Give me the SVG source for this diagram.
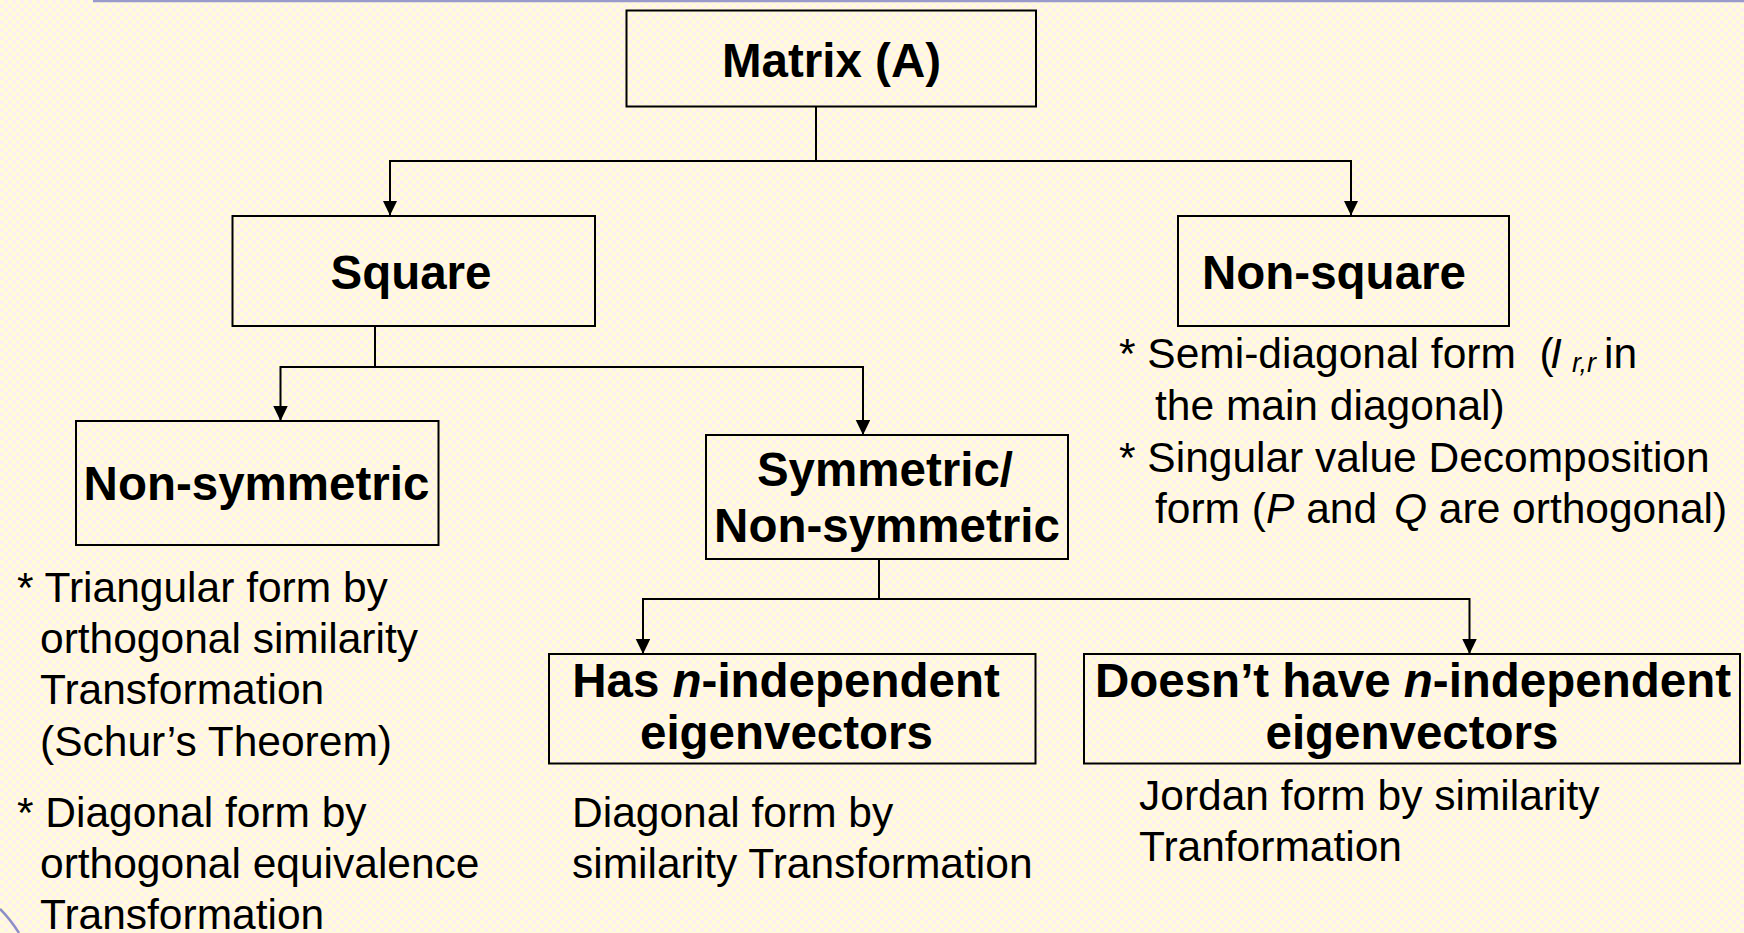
<svg xmlns="http://www.w3.org/2000/svg" width="1744" height="933" viewBox="0 0 1744 933">
<defs>
<pattern id="bg" width="8" height="8" patternUnits="userSpaceOnUse">
<rect width="8" height="8" fill="#fdeef4"/>
<circle cx="2" cy="2" r="2.6" fill="#fffcd6"/>
<circle cx="6" cy="6" r="2.6" fill="#fffcd6"/>
</pattern>
<marker id="arr" markerUnits="userSpaceOnUse" markerWidth="15" markerHeight="15" refX="15" refY="7.25" orient="auto">
<path d="M0,0 L15,7.25 L0,14.5 z" fill="#000"/>
</marker>
<style>
.box{fill:none;stroke:#000;stroke-width:2}
.conn{fill:none;stroke:#000;stroke-width:2}
.b{font-family:"Liberation Sans",Arial,sans-serif;font-weight:bold;font-size:47.5px;text-anchor:middle;fill:#000}
.t{font-family:"Liberation Sans",Arial,sans-serif;font-size:42.5px;fill:#000}
.i{font-style:italic}
</style>
</defs>
<rect width="1744" height="933" fill="url(#bg)"/>
<line x1="93" y1="1" x2="1744" y2="1" stroke="#9a9acb" stroke-width="2.5"/>
<path d="M0,909 Q10,919 19,933" fill="none" stroke="#8e8ec6" stroke-width="2.5"/>

<g id="connectors">
<path class="conn" d="M816,107 V161"/>
<path class="conn" d="M816,161 H390 V215.5" marker-end="url(#arr)"/>
<path class="conn" d="M816,161 H1351 V215.5" marker-end="url(#arr)"/>
<path class="conn" d="M375,326 V367"/>
<path class="conn" d="M375,367 H280.5 V421" marker-end="url(#arr)"/>
<path class="conn" d="M375,367 H863 V435" marker-end="url(#arr)"/>
<path class="conn" d="M879,559 V599"/>
<path class="conn" d="M879,599 H643 V654" marker-end="url(#arr)"/>
<path class="conn" d="M879,599 H1469.5 V654" marker-end="url(#arr)"/>
</g>

<g id="node-matrix">
<rect class="box" x="626.5" y="10.5" width="409.5" height="96"/>
<text class="b" x="831.5" y="77">Matrix (A)</text>
</g>
<g id="node-square">
<rect class="box" x="232.5" y="216" width="362.5" height="110"/>
<text class="b" x="411" y="289">Square</text>
</g>
<g id="node-nonsquare">
<rect class="box" x="1178" y="216" width="331" height="110"/>
<text class="b" x="1334" y="289">Non-square</text>
</g>
<g id="node-nonsymmetric">
<rect class="box" x="76" y="421" width="362.5" height="124"/>
<text class="b" x="256.5" y="500">Non-symmetric</text>
</g>
<g id="node-symmetric">
<rect class="box" x="706" y="435" width="362" height="124"/>
<text class="b" x="885" y="486">Symmetric/</text>
<text class="b" x="887" y="542">Non-symmetric</text>
</g>
<g id="node-has">
<rect class="box" x="549" y="654" width="486.5" height="109.5"/>
<text class="b" x="786" y="697">Has <tspan class="i">n</tspan>-independent</text>
<text class="b" x="786.5" y="749">eigenvectors</text>
</g>
<g id="node-doesnt">
<rect class="box" x="1084" y="654" width="656" height="109.5"/>
<text class="b" x="1413" y="697">Doesn’t have <tspan class="i">n</tspan>-independent</text>
<text class="b" x="1412" y="749">eigenvectors</text>
</g>

<g id="notes-nonsquare">
<text class="t" x="1119" y="368" xml:space="preserve">* Semi-diagonal form  (<tspan class="i" x="1550" font-weight="normal">I</tspan><tspan class="i" x="1572" y="372" font-size="27">r,r</tspan><tspan x="1604" y="368">in</tspan></text>
<text class="t" x="1155" y="420">the main diagonal)</text>
<text class="t" x="1119" y="472">* Singular value Decomposition</text>
<text class="t" x="1155" y="523">form (<tspan class="i">P</tspan> and <tspan class="i" x="1394">Q</tspan> are orthogonal)</text>
</g>
<g id="notes-nonsymmetric">
<text class="t" x="17" y="602">* Triangular form by</text>
<text class="t" x="40" y="653">orthogonal similarity</text>
<text class="t" x="40" y="704">Transformation</text>
<text class="t" x="40" y="756">(Schur’s Theorem)</text>
<text class="t" x="17" y="827">* Diagonal form by</text>
<text class="t" x="40" y="878">orthogonal equivalence</text>
<text class="t" x="40" y="929">Transformation</text>
</g>
<g id="notes-has">
<text class="t" x="572" y="827">Diagonal form by</text>
<text class="t" x="572" y="878">similarity Transformation</text>
</g>
<g id="notes-doesnt">
<text class="t" x="1139" y="810">Jordan form by similarity</text>
<text class="t" x="1139" y="861">Tranformation</text>
</g>
</svg>
